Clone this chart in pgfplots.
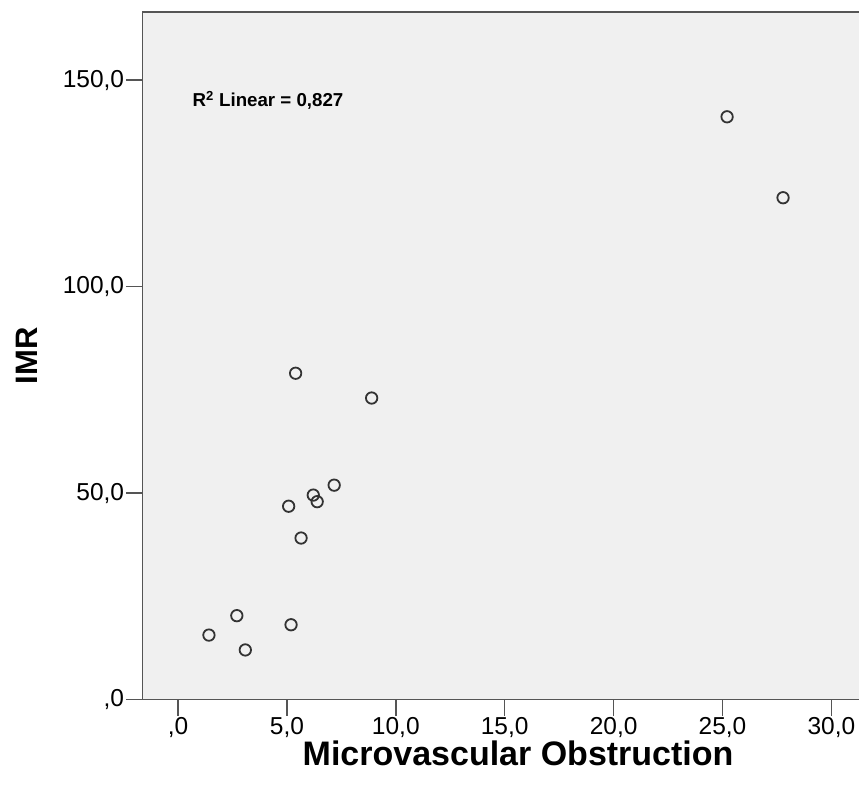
\documentclass[border=0pt]{standalone}
\usepackage{fontspec}
\setmainfont{Liberation Sans}
\usepackage{pgfplots}
\pgfplotsset{compat=1.18}
\definecolor{bgc}{HTML}{F0F0F0}
\definecolor{axc}{HTML}{555555}
\definecolor{mkc}{HTML}{333333}
\begin{document}
\begin{tikzpicture}
\begin{axis}[name=ax, scale only axis,
  width=719.6pt, height=687.6pt,
  xmin=-1.64, xmax=31.4, ymin=0, ymax=166.5,
  axis background/.style={fill=bgc},
  axis line style={draw=axc, line width=1.4pt},
  xtick={0,5,10,15,20,25,30},
  xticklabels={{,0},{5,0},{10,0},{15,0},{20,0},{25,0},{30,0}},
  ytick={0,50,100,150},
  yticklabels={{,0},{50,0},{100,0},{150,0}},
  xtick pos=bottom, ytick pos=left,
  tick align=outside, major tick length=16pt,
  tick style={axc, line width=1.4pt},
  ticklabel style={font=\fontsize{24.5}{24.5}\selectfont, text=black},
  yticklabel style={inner xsep=0pt, xshift=-2pt},
  xticklabel style={yshift=2pt},
  xlabel={Microvascular Obstruction}, ylabel={IMR},
  xlabel style={font=\bfseries\fontsize{34}{34}\selectfont, xshift=16pt, yshift=3pt},
  ylabel style={font=\bfseries\fontsize{31}{31}\selectfont},
  ylabel shift=22pt,
  clip=false]
\addplot[only marks, mark=o, mark size=5.7pt, mark options={draw=mkc, line width=1.8pt}] coordinates {
(25.21,141.1) (27.78,121.5) (5.40,79.0) (8.89,73.0) (7.17,51.9)
(6.21,49.5) (6.39,47.9) (5.08,46.8) (5.65,39.1) (2.70,20.3)
(1.42,15.6) (5.19,18.1) (3.09,12.0)
};
\node[anchor=west, font=\bfseries\fontsize{18.7}{18.7}\selectfont] at (axis cs:0.51,145.1) {R\textsuperscript{2} Linear = 0,827};
\end{axis}
\pgfresetboundingbox
\path[use as bounding box] ([shift={(-142.3pt,-96.5pt)}]ax.south west) rectangle ([shift={(716.7pt,699.5pt)}]ax.south west);
\end{tikzpicture}
\end{document}
